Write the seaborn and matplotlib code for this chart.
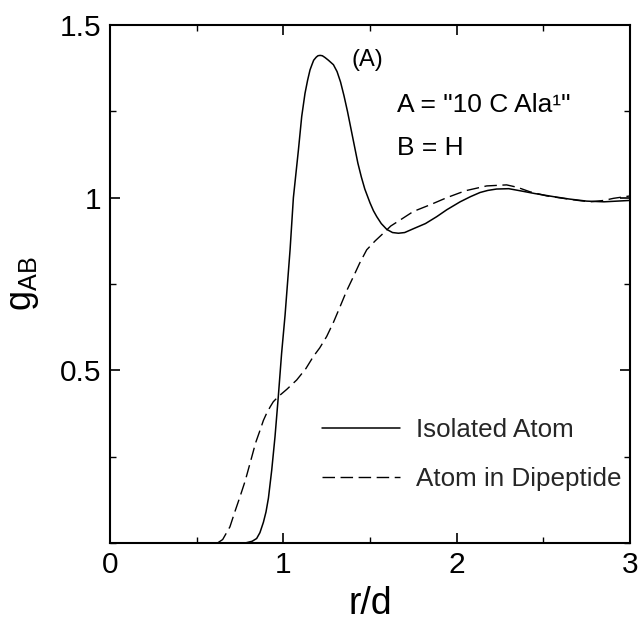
import numpy as np
import pandas as pd
import matplotlib
matplotlib.use("Agg")
import matplotlib.pyplot as plt
import seaborn as sns
from matplotlib.ticker import MultipleLocator, FixedLocator

# ---- data ----
iso_x = [0.0, 0.78, 0.82, 0.846, 0.865, 0.885, 0.90, 0.914, 0.933, 0.952, 0.971, 0.99,
         1.01, 1.039, 1.058, 1.087, 1.106, 1.125, 1.14, 1.154, 1.165, 1.175, 1.19, 1.20,
         1.212, 1.225, 1.24, 1.26, 1.289, 1.31, 1.33, 1.35, 1.37, 1.39, 1.41, 1.43,
         1.45, 1.47, 1.50, 1.52, 1.539, 1.565, 1.597, 1.63, 1.664, 1.70, 1.75,
         1.82, 1.885, 1.943, 2.02, 2.08, 2.135, 2.18, 2.23, 2.30, 2.366, 2.45, 2.558,
         2.65, 2.75, 2.85, 3.0]
iso_y = [0.0, 0.0, 0.005, 0.013, 0.03, 0.06, 0.09, 0.13, 0.211, 0.308, 0.424, 0.549,
         0.66, 0.85, 1.0, 1.138, 1.235, 1.302, 1.34, 1.37, 1.385, 1.398, 1.407, 1.411,
         1.412, 1.411, 1.406, 1.398, 1.385, 1.365, 1.335, 1.295, 1.25, 1.20, 1.15, 1.10,
         1.06, 1.025, 0.985, 0.962, 0.945, 0.925, 0.908, 0.899, 0.897, 0.899, 0.91,
         0.925, 0.945, 0.965, 0.988, 1.003, 1.015, 1.021, 1.025, 1.026, 1.02, 1.012, 1.003,
         0.996, 0.99, 0.988, 0.992]

dip_x = [0.0, 0.62, 0.65, 0.692, 0.72, 0.75, 0.78, 0.808, 0.84, 0.866, 0.885, 0.904,
         0.925, 0.942, 0.971, 1.02, 1.077, 1.13, 1.173, 1.21, 1.25, 1.29, 1.327, 1.365,
         1.404, 1.44, 1.481, 1.53, 1.577, 1.62, 1.673, 1.75, 1.85, 1.943, 2.05, 2.173,
         2.288, 2.35, 2.423, 2.52, 2.615, 2.70, 2.77, 2.85, 2.904, 3.0]
dip_y = [0.0, 0.0, 0.01, 0.047, 0.09, 0.134, 0.18, 0.231, 0.29, 0.327, 0.355, 0.376,
         0.395, 0.409, 0.424, 0.445, 0.472, 0.505, 0.54, 0.565, 0.598, 0.64, 0.684, 0.73,
         0.771, 0.81, 0.849, 0.875, 0.897, 0.918, 0.935, 0.960, 0.98, 1.0, 1.02, 1.034,
         1.037, 1.03, 1.017, 1.005, 0.998, 0.992, 0.988, 0.992, 0.998, 1.005]

series_labels = ["Isolated Atom", "Atom in Dipeptide"]
x_ticks = [0, 1, 2, 3]
x_tick_labels = ["0", "1", "2", "3"]
y_ticks = [0.5, 1.0, 1.5]
y_tick_labels = ["0.5", "1", "1.5"]

sns.set_theme(style="ticks")
plt.rcParams["font.family"] = ["Liberation Sans", "DejaVu Sans"]
plt.rcParams["mathtext.fontset"] = "custom"
plt.rcParams["mathtext.rm"] = "Liberation Sans"
plt.rcParams["mathtext.it"] = "Liberation Sans"

fig = plt.figure(figsize=(6.39, 6.23), dpi=100)
ax = fig.add_axes([110 / 639, 1 - 543 / 623, 520 / 639, 518 / 623])

df_iso = pd.DataFrame({"r": iso_x, "g": iso_y})
df_dip = pd.DataFrame({"r": dip_x, "g": dip_y})

sns.lineplot(data=df_iso, x="r", y="g", ax=ax, color="black", lw=1.1,
             label=series_labels[0], estimator=None, sort=False)
sns.lineplot(data=df_dip, x="r", y="g", ax=ax, color="black", lw=1.0,
             linestyle=(0, (9, 4)), label=series_labels[1], estimator=None, sort=False)

ax.set_xlim(0, 3)
ax.set_ylim(0, 1.5)

ax.xaxis.set_major_locator(FixedLocator(x_ticks))
ax.set_xticklabels(x_tick_labels)
ax.yaxis.set_major_locator(FixedLocator(y_ticks))
ax.set_yticklabels(y_tick_labels)
ax.xaxis.set_minor_locator(MultipleLocator(0.5))
ax.yaxis.set_minor_locator(MultipleLocator(0.25))

ax.tick_params(which="both", direction="in", top=True, right=True, color="black",
               labelsize=21.5, labelcolor="black")
ax.tick_params(which="major", length=7, width=1.2, pad=6)
ax.tick_params(which="minor", length=4, width=1.0)
for s in ax.spines.values():
    s.set_linewidth(1.5)
    s.set_color("black")

ax.set_xlabel("r/d", fontsize=27, color="black", labelpad=5)
ax.set_ylabel(r"$\mathregular{g_{AB}}$", fontsize=26, color="black", labelpad=14)

ax.text(1.396, 1.38, "(A)", fontsize=17, color="black", va="baseline", ha="left")
ax.text(1.656, 1.249, 'A = "10 C Ala\u00b9"', fontsize=19, color="black",
        va="baseline", ha="left")
ax.text(1.656, 1.124, "B = H", fontsize=19, color="black", va="baseline", ha="left")

ax.legend(loc="upper left", bbox_to_anchor=((322 - 110) / 520, (543 - 418) / 518),
          frameon=False, fontsize=18.7, handlelength=3.0, handletextpad=0.62,
          labelspacing=0.97, borderpad=0, borderaxespad=0)

fig.savefig("out.png", dpi=100, facecolor="white")
